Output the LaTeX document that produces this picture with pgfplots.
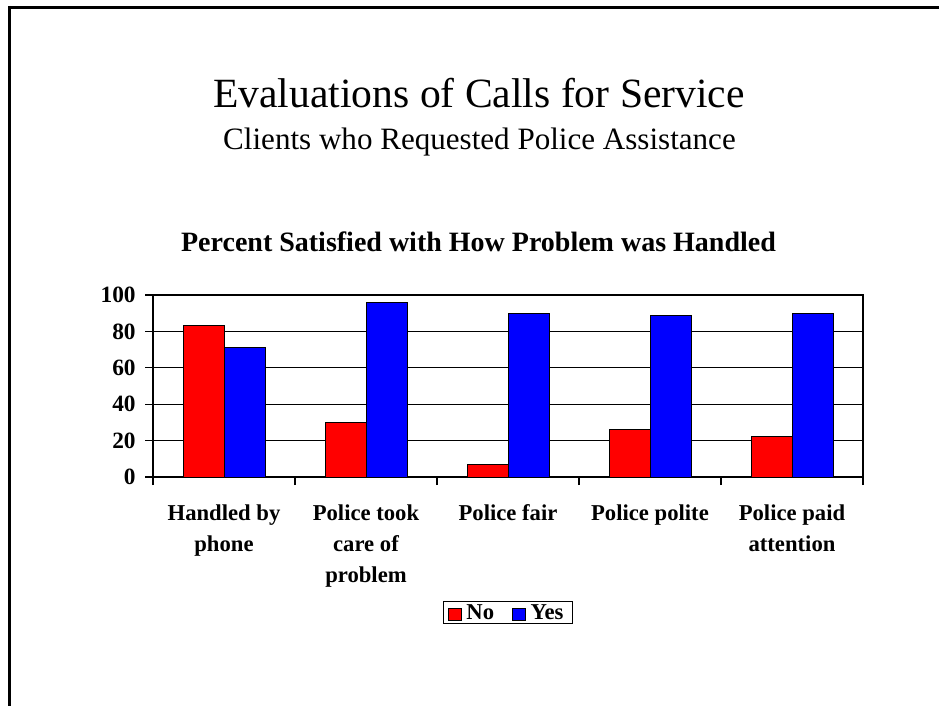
\documentclass[border=0pt]{standalone}
\usepackage{pgfplots}
\pgfplotsset{compat=1.18}
\usepackage{fontspec}
\setmainfont{Liberation Serif}
\definecolor{barred}{RGB}{255,0,0}
\definecolor{barblue}{RGB}{0,0,255}
\begin{document}
\begin{tikzpicture}
\begin{scope}[x=0.75pt,y=-0.75pt]
\useasboundingbox (0,0) rectangle (939,706);
\fill[white] (0,0) rectangle (939,706);
\draw[line width=2.25pt] (8,7.5) -- (939,7.5);
\draw[line width=2.25pt] (9.5,6) -- (9.5,706);
\node[anchor=base, inner sep=0pt] at (479,108) {\fontsize{31.2}{34}\selectfont Evaluations of Calls for Service};
\node[anchor=base, inner sep=0pt] at (479.5,150) {\fontsize{23.3}{26}\selectfont Clients who Requested Police Assistance};
\node[anchor=base, inner sep=0pt] at (478.5,251) {\fontsize{21}{24}\selectfont\bfseries Percent Satisfied with How Problem was Handled};
\end{scope}
\begin{axis}[
  at={(114.75pt,-357.75pt)}, anchor=south west,
  scale only axis, width=532.5pt, height=136.5pt,
  xmin=-0.5, xmax=4.5, ymin=0, ymax=100,
  ybar=0pt, bar width=30.75pt,
  ytick={0,20,40,60,80,100},
  xtick={0,1,2,3,4},
  xticklabels={{Handled by\\phone},{Police took\\care of\\problem},{Police fair},{Police polite},{Police paid\\attention}},
  minor xtick={-0.5,0.5,1.5,2.5,3.5,4.5},
  major x tick style={draw=none},
  tick align=outside,
  xtick pos=bottom, ytick pos=left,
  major tick length=6pt, minor tick length=6pt,
  tick style={black, line width=0.9pt},
  ymajorgrids, grid style={black, line width=0.9pt},
  axis line style={black, line width=0.9pt},
  /pgf/number format/assume math mode=true,
  yticklabel style={font=\bfseries\fontsize{17.5}{20}\selectfont, xshift=-3.5pt},
  xticklabel style={align=center, font=\bfseries\fontsize{17}{23.25}\selectfont, anchor=north, yshift=-11pt},
  legend style={at={(0.5,-0.681)}, anchor=north, draw=black, line width=0.9pt,
    font=\bfseries\fontsize{17}{19}\selectfont, inner xsep=3pt, inner ysep=0.5pt,
    nodes={inner xsep=3.5pt, inner ysep=1.5pt},
    /tikz/every even column/.append style={column sep=10pt}},
  legend columns=2,
  legend image code/.code={\draw[#1, line width=0.7pt] (0pt,-5.5pt) rectangle (9.75pt,3.5pt);},
]
\addplot[fill=barred, draw=black, line width=0.7pt] coordinates {(0,83) (1,30) (2,7) (3,26) (4,22)};
\addplot[fill=barblue, draw=black, line width=0.7pt] coordinates {(0,71) (1,96) (2,90) (3,88.5) (4,90)};
\legend{No, Yes}
\end{axis}
\end{tikzpicture}
\end{document}
